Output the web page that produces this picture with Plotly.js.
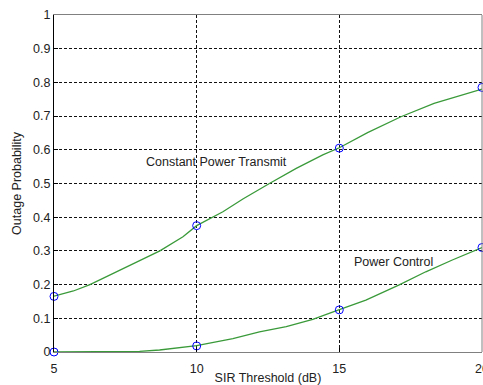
<!DOCTYPE html>
<html>
<head>
<meta charset="utf-8">
<script src="https://cdn.plot.ly/plotly-3.0.1.min.js"></script>
<style>html,body{margin:0;padding:0;background:#fff;}#chart{width:483px;height:385px;}</style>
</head>
<body>
<div id="chart"></div>
<script>
// Curve: Constant Power Transmit
var cptX = [5, 5.68, 6.26, 7.19, 8.0, 8.71, 9.52, 10, 10.92, 11.62, 12.55, 13.49, 14.42, 15, 15.99, 17.16, 18.32, 19.49, 20];
var cptY = [0.166, 0.181, 0.2, 0.238, 0.27, 0.30, 0.342, 0.375, 0.416, 0.454, 0.50, 0.545, 0.585, 0.606, 0.651, 0.698, 0.738, 0.768, 0.78];
// Curve: Power Control
var pcX = [5, 6, 7, 7.5, 8, 8.7, 10, 11.27, 12.2, 13.14, 14.07, 15, 15.93, 17.1, 18.03, 18.96, 20];
var pcY = [0, 0, 0, 0, 0.002, 0.006, 0.019, 0.04, 0.06, 0.075, 0.097, 0.126, 0.154, 0.199, 0.238, 0.273, 0.31];
// Marker points
var markX = [5, 10, 15, 20];
var cptMark = [0.165, 0.375, 0.605, 0.785];
var pcMark = [0, 0.018, 0.125, 0.31];
// Tick labels
var xTicks = [5, 10, 15, 20];
var yTicks = [0, 0.1, 0.2, 0.3, 0.4, 0.5, 0.6, 0.7, 0.8, 0.9, 1];
var yTickText = ['0', '0.1', '0.2', '0.3', '0.4', '0.5', '0.6', '0.7', '0.8', '0.9', '1'];

var FONT = 'Arial, "Liberation Sans", sans-serif';
var lineColor = '#3a9a3a';

var traces = [
  {x: cptX, y: cptY, mode: 'lines', line: {color: lineColor, width: 1.3}, hoverinfo: 'skip'},
  {x: pcX, y: pcY, mode: 'lines', line: {color: lineColor, width: 1.3}, hoverinfo: 'skip'},
  {x: markX, y: cptMark, mode: 'markers', cliponaxis: false,
   marker: {symbol: 'circle-open', size: 8, color: '#0000ff', line: {width: 1, color: '#0000ff'}}},
  {x: markX, y: pcMark, mode: 'markers', cliponaxis: false,
   marker: {symbol: 'circle-open', size: 8, color: '#0000ff', line: {width: 1, color: '#0000ff'}}}
];

var layout = {
  width: 483, height: 385,
  margin: {l: 54, r: 1, t: 15, b: 33, pad: 0},
  paper_bgcolor: '#ffffff', plot_bgcolor: '#ffffff',
  showlegend: false,
  font: {family: FONT, size: 12.5, color: '#222222'},
  xaxis: {
    range: [5, 20.0005], tickvals: xTicks, ticktext: xTicks.map(String),
    ticks: 'inside', ticklen: 4, tickcolor: '#000000',
    ticklabeloverflow: 'allow', ticklabelstandoff: 5,
    showgrid: true, gridcolor: '#111111', gridwidth: 1, griddash: '3px,2px',
    showline: true, linecolor: '#808080', linewidth: 1, mirror: true,
    zeroline: false, fixedrange: true, automargin: false,
    tickfont: {family: FONT, size: 12.5, color: '#222222'},
    title: {text: 'SIR Threshold (dB)', font: {family: FONT, size: 12.5, color: '#222222'}, standoff: 2}
  },
  yaxis: {
    range: [0, 1], tickvals: yTicks, ticktext: yTickText,
    ticks: 'inside', ticklen: 4, tickcolor: '#000000',
    showgrid: true, gridcolor: '#111111', gridwidth: 1, griddash: '3px,2px',
    showline: true, linecolor: '#000000', linewidth: 1, mirror: false,
    zeroline: false, fixedrange: true, automargin: false,
    tickfont: {family: FONT, size: 12.5, color: '#222222'},
    title: {text: 'Outage Probability', font: {family: FONT, size: 12.5, color: '#222222'}, standoff: 8}
  },
  shapes: [
    {type: 'line', xref: 'paper', yref: 'paper', x0: 1, x1: 1, y0: 0, y1: 1,
     line: {color: '#808080', width: 1}}
  ],
  annotations: [
    {text: 'Constant Power Transmit', x: 8.15, y: 0.565, xref: 'x', yref: 'y',
     xanchor: 'left', yanchor: 'middle', showarrow: false,
     font: {family: FONT, size: 12.5, color: '#222222'}},
    {text: 'Power Control', x: 15.45, y: 0.267, xref: 'x', yref: 'y',
     xanchor: 'left', yanchor: 'middle', showarrow: false,
     font: {family: FONT, size: 12.5, color: '#222222'}}
  ]
};

Plotly.newPlot('chart', traces, layout, {displayModeBar: false, staticPlot: true});
</script>
</body>
</html>
